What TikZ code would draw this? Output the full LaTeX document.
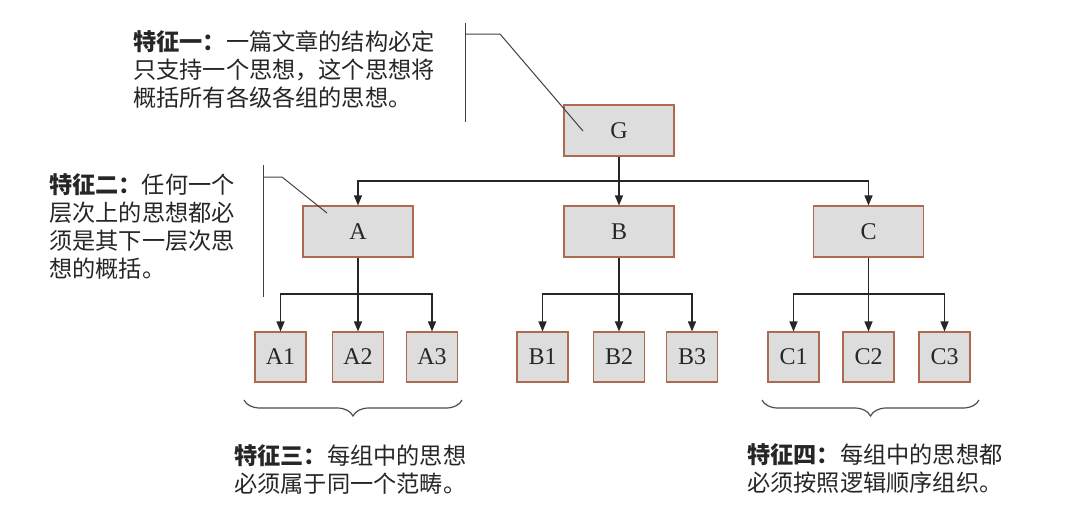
\documentclass[tikz,border=0pt]{standalone}
\usepackage{fontspec}
\setmainfont{Liberation Serif}
\newfontfamily\cjk{Noto Sans CJK SC}
\usetikzlibrary{arrows.meta,decorations.pathreplacing}
\definecolor{boxedge}{RGB}{172,106,78}
\definecolor{boxfill}{RGB}{221,221,221}
\tikzset{
  box/.style={draw=boxedge, fill=boxfill, line width=1.1pt, inner sep=0pt,
    font=\fontsize{24}{26}\selectfont, text=black!85},
  bigbox/.style={box, minimum width=110pt, minimum height=51pt},
  smallbox/.style={box, minimum width=51pt, minimum height=50pt},
  conn/.style={draw=black!85, line width=1.4pt},
  arr/.style={conn, -{Triangle[width=8pt,length=10pt]}},
  pointer/.style={draw=black!75, line width=1pt},
  note/.style={align=left, anchor=north west, inner sep=0pt,
    font=\cjk\fontsize{23.2}{28}\selectfont, text=black!85},
  grpbrace/.style={draw=black!70, line width=1.2pt,
    decorate, decoration={brace, amplitude=16pt}}
}
\begin{document}
\begin{tikzpicture}[x=1pt,y=-1pt]
\useasboundingbox (0,0) rectangle (1080,525);

% nodes
\node[bigbox] (G) at (619,130.5) {G};
\node[bigbox] (A) at (358,231.5) {A};
\node[bigbox] (B) at (619,231.5) {B};
\node[bigbox] (C) at (868.5,231.5) {C};

\node[smallbox] (A1) at (280.5,357) {A1};
\node[smallbox] (A2) at (358,357) {A2};
\node[smallbox] (A3) at (432,357) {A3};
\node[smallbox] (B1) at (542.5,357) {B1};
\node[smallbox] (B2) at (619,357) {B2};
\node[smallbox] (B3) at (692,357) {B3};
\node[smallbox] (C1) at (793.5,357) {C1};
\node[smallbox] (C2) at (868.5,357) {C2};
\node[smallbox] (C3) at (944.5,357) {C3};

% connectors G
\coordinate (jG) at (G.south |- 0,181);
\draw[conn] (G.south) -- (jG);
\draw[arr] (jG) -| (A.north);
\draw[arr] (jG) -- (B.north);
\draw[arr] (jG) -| (C.north);

% connectors A, B, C
\foreach \p in {A,B,C}{
  \coordinate (j\p) at (\p.south |- 0,294);
  \draw[conn] (\p.south) -- (j\p);
  \draw[arr] (j\p) -| (\p1.north);
  \draw[arr] (j\p) -- (\p2.north);
  \draw[arr] (j\p) -| (\p3.north);
}

% annotation 1
\node[note] (n1) at (133,30.5) {\textbf{特征一：}一篇文章的结构必定\\只支持一个思想，这个思想将\\概括所有各级各组的思想。};
\coordinate (v1a) at (465,23);
\coordinate (v1b) at (465,122);
\coordinate (h1) at (465,34);
\coordinate (k1) at (500,34);
\coordinate (e1) at (583,131);
\draw[pointer] (v1a) -- (v1b);
\draw[pointer] (h1) -- (k1) -- (e1);

% annotation 2
\node[note] (n2) at (49,173.5) {\textbf{特征二：}任何一个\\层次上的思想都必\\须是其下一层次思\\想的概括。};
\coordinate (v2a) at (263,165);
\coordinate (v2b) at (263,297);
\coordinate (h2) at (263,177);
\coordinate (k2) at (282,177);
\coordinate (e2) at (327,213);
\draw[pointer] (v2a) -- (v2b);
\draw[pointer] (h2) -- (k2) -- (e2);

% braces
\coordinate (bAl) at (244,400);
\coordinate (bAr) at (462,400);
\coordinate (bCl) at (762,400);
\coordinate (bCr) at (979,400);
\draw[grpbrace] (bAr) -- (bAl);
\draw[grpbrace] (bCr) -- (bCl);

% annotations 3 and 4
\node[note] (n3) at (234,444.5) {\textbf{特征三：}每组中的思想\\必须属于同一个范畴。};
\node[note] (n4) at (747,443.5) {\textbf{特征四：}每组中的思想都\\必须按照逻辑顺序组织。};
\end{tikzpicture}
\end{document}
